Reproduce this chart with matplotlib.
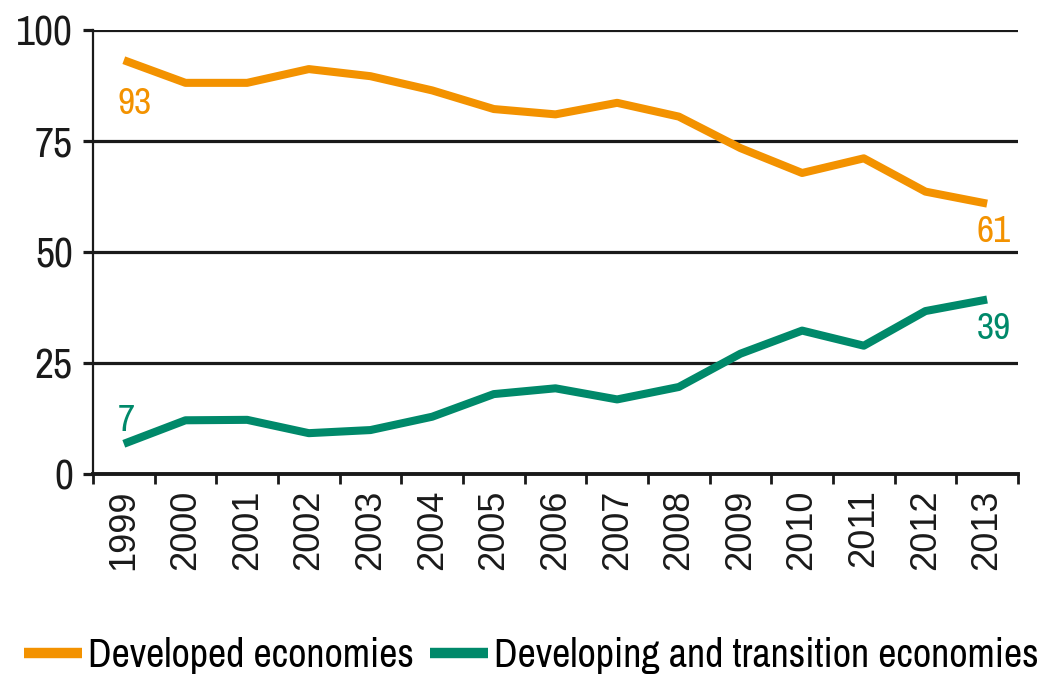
import matplotlib
matplotlib.use("Agg")
import matplotlib.pyplot as plt

years = ["1999", "2000", "2001", "2002", "2003", "2004", "2005", "2006",
         "2007", "2008", "2009", "2010", "2011", "2012", "2013"]
developed = [93.2, 88.1, 88.1, 91.2, 89.6, 86.4, 82.2, 81.0, 83.6, 80.5,
             73.4, 67.8, 71.1, 63.6, 60.9]
developing = [6.8, 12.1, 12.2, 9.2, 9.9, 12.9, 18.0, 19.3, 16.8, 19.6,
              27.1, 32.3, 28.9, 36.7, 39.3]
yticks = [0, 25, 50, 75, 100]

orange = "#F39200"
green = "#00896A"
ink = "#1a1a1a"

narrow = ["Archivo Narrow", "Liberation Sans", "DejaVu Sans"]
plt.rcParams["font.family"] = narrow

fig = plt.figure(figsize=(10.4, 6.76), dpi=100)
ax = fig.add_axes([0.0894, 0.2988, 0.8894, 0.6568])

x = list(range(len(years)))
ax.plot(x, developed, color=orange, lw=5.8, solid_capstyle="butt",
        label="Developed economies", zorder=3)
ax.plot(x, developing, color=green, lw=5.8, solid_capstyle="butt",
        label="Developing and transition economies", zorder=3)

ax.set_xlim(-0.5, len(years) - 0.5)
ax.set_ylim(0, 100)
ax.set_yticks(yticks)
ax.set_yticklabels([str(v) for v in yticks], fontsize=30, color=ink)
ax.yaxis.grid(True, color=ink, lw=2.3, zorder=1)
ax.tick_params(axis="y", length=7.5, width=2.3, color=ink, pad=7)

# year labels at centres, ticks on the boundaries
ax.set_xticks(x)
ax.set_xticklabels(years, rotation=90, fontsize=26, color=ink,
                   family=["Liberation Sans", "DejaVu Sans"])
ax.tick_params(axis="x", length=0, pad=11)
ax.set_xticks([i - 0.5 for i in range(len(years) + 1)], minor=True)
ax.tick_params(axis="x", which="minor", length=7.5, width=2, color=ink)

for s in ["top", "right"]:
    ax.spines[s].set_visible(False)
ax.spines["left"].set_linewidth(1.6)
ax.spines["left"].set_color(ink)
ax.spines["bottom"].set_linewidth(2.8)
ax.spines["bottom"].set_color(ink)

# value labels at both ends
ax.annotate(f"{developed[0]:.0f}", (x[0], developed[0]), xytext=(-4.5, -19),
            textcoords="offset points", color=orange, fontsize=27,
            ha="left", va="top")
ax.annotate(f"{developing[0]:.0f}", (x[0], developing[0]), xytext=(-4.5, 5),
            textcoords="offset points", color=green, fontsize=27,
            ha="left", va="bottom")
ax.annotate(f"{developed[-1]:.0f}", (x[-1], developed[-1]), xytext=(-7.5, -8),
            textcoords="offset points", color=orange, fontsize=27,
            ha="left", va="top")
ax.annotate(f"{developing[-1]:.0f}", (x[-1], developing[-1]), xytext=(-7.5, -9),
            textcoords="offset points", color=green, fontsize=27,
            ha="left", va="top")

fig.legend(loc="lower left", bbox_to_anchor=(0.0, -0.032), ncol=2, frameon=False,
           fontsize=28.8, handlelength=1.45, handletextpad=0.15, columnspacing=0.4,
           borderaxespad=0.2)
for h in fig.legends[0].legend_handles:
    h.set_linewidth(7.5)

fig.savefig("out.png", dpi=100)
